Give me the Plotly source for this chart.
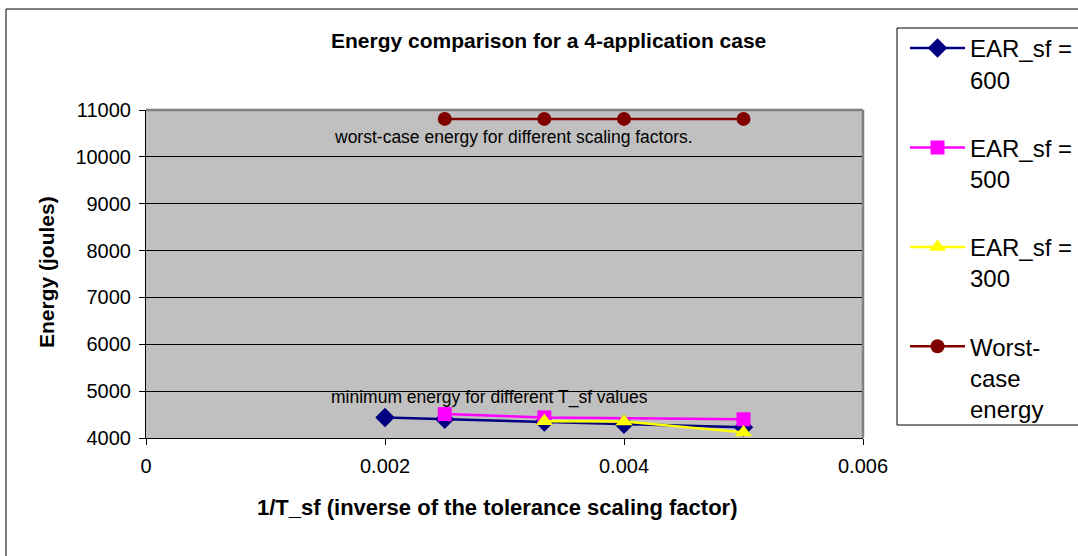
import plotly.graph_objects as go

x_600 = [0.002, 0.0025, 1/300, 0.004, 0.005]
y_600 = [4435, 4400, 4340, 4295, 4230]
x_500 = [0.0025, 1/300, 0.005]
y_500 = [4510, 4440, 4400]
x_300 = [1/300, 0.004, 0.005]
y_300 = [4360, 4350, 4120]
x_worst = [0.0025, 1/300, 0.004, 0.005]
y_worst = [10810, 10810, 10810, 10810]

names = ["EAR_sf =<br>600", "EAR_sf =<br>500", "EAR_sf =<br>300", "Worst-<br>case<br>energy"]
x_ticks = [0, 0.002, 0.004, 0.006]
x_tick_text = ["0", "0.002", "0.004", "0.006"]

FONT = "Liberation Sans, Arial, sans-serif"
W, H = 1078, 556
L, R, T, B = 146, 863, 110, 438

fig = go.Figure()
fig.add_trace(go.Scatter(x=x_600, y=y_600, name=names[0], mode="lines+markers", legendgroup="a",
                         line=dict(color="#000080", width=2.5),
                         marker=dict(symbol="diamond", size=15, color="#000080")))
fig.add_trace(go.Scatter(x=x_500, y=y_500, name=names[1], mode="lines+markers", legendgroup="b",
                         line=dict(color="#FF00FF", width=2.5),
                         marker=dict(symbol="square", size=14, color="#FF00FF")))
fig.add_trace(go.Scatter(x=x_300, y=y_300, name=names[2], mode="lines+markers", legendgroup="c",
                         line=dict(color="#FFFF00", width=2.5),
                         marker=dict(symbol="triangle-up", size=15, color="#FFFF00")))
fig.add_trace(go.Scatter(x=x_worst, y=y_worst, name=names[3], mode="lines+markers", legendgroup="d",
                         line=dict(color="#800000", width=2.5),
                         marker=dict(symbol="circle", size=14, color="#800000")))

def px(xp):
    return (xp - L) / (R - L)

def py(yp):
    return (B - yp) / (B - T)

def ann(text, x, y, size, angle=0):
    return dict(text=text, xref="paper", yref="paper", x=px(x), y=py(y),
                xanchor="center", yanchor="middle", textangle=angle,
                showarrow=False, font=dict(size=size, family=FONT, color="black"))

fig.update_layout(
    width=W, height=H,
    margin=dict(l=L, r=W - R, t=T, b=H - B, autoexpand=False),
    paper_bgcolor="white",
    plot_bgcolor="#C0C0C0",
    font=dict(family=FONT, color="black", size=20),
    showlegend=True,
    legend=dict(
        x=px(905), y=py(26), xanchor="left", yanchor="top",
        borderwidth=0, bgcolor="rgba(0,0,0,0)",
        font=dict(family=FONT, size=24, color="black"),
        tracegroupgap=34, itemwidth=55, valign="top", maxheight=500,
    ),
    xaxis=dict(range=[0, 0.006], tickvals=x_ticks, ticktext=x_tick_text,
               showgrid=False, zeroline=False, showline=True, linecolor="black", linewidth=1,
               ticks="outside", ticklen=6, tickcolor="black", ticklabelstandoff=4,
               tickfont=dict(size=20, family=FONT)),
    yaxis=dict(range=[4000, 11000], dtick=1000, tick0=4000, tickformat="d",
               showgrid=True, gridcolor="black", gridwidth=1, zeroline=False,
               showline=True, linecolor="black", linewidth=1,
               ticks="outside", ticklen=6, tickcolor="black", ticklabelstandoff=4,
               tickfont=dict(size=20, family=FONT)),
    shapes=[
        dict(type="line", xref="paper", yref="paper", x0=0, x1=1, y0=1, y1=1,
             line=dict(color="#808080", width=2.5), layer="above"),
        dict(type="line", xref="paper", yref="paper", x0=1, x1=1, y0=0, y1=1,
             line=dict(color="#808080", width=2.5), layer="above"),
        dict(type="rect", xref="paper", yref="paper",
             x0=px(6), x1=px(1090), y0=py(9), y1=py(570),
             line=dict(color="black", width=1), fillcolor="rgba(0,0,0,0)", layer="below"),
        dict(type="rect", xref="paper", yref="paper",
             x0=px(897), x1=px(1090), y0=py(28), y1=py(425),
             line=dict(color="black", width=1), fillcolor="white", layer="below"),
    ],
    annotations=[
        ann("<b>Energy comparison for a 4-application case</b>", 548, 40, 21),
        ann("<b>Energy (joules)</b>", 46, 272, 21, -90),
        ann("<b>1/T_sf (inverse of the tolerance scaling factor)</b>", 497, 507, 22),
        ann("worst-case energy for different scaling factors.", 513, 137, 17.5),
        ann("minimum energy for different T_sf values", 489, 397, 17.5),
    ],
)

fig.write_html("out.html")
